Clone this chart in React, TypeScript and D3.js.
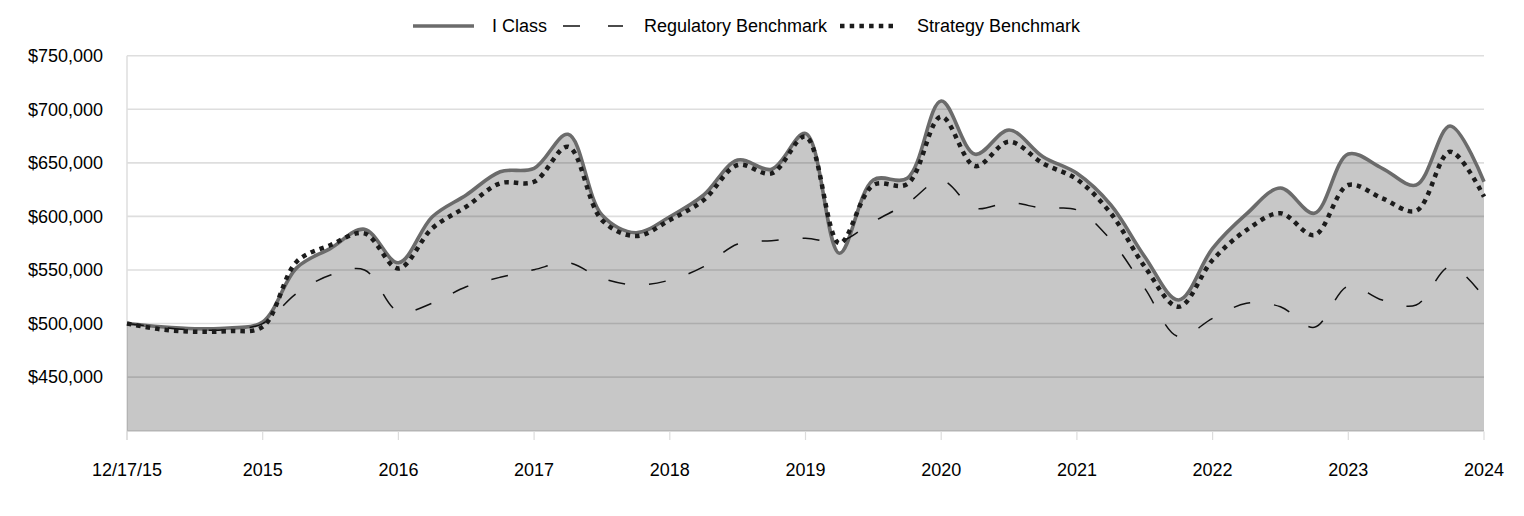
import React from "react";
import * as d3 from "d3";

const tickLabels = ["12/17/15", "2015", "2016", "2017", "2018", "2019", "2020", "2021", "2022", "2023", "2024"];
const yTicks = [450000, 500000, 550000, 600000, 650000, 700000, 750000];

const iClass = [500000, 497000, 495200, 495800, 501500, 552000, 570200, 588000, 556800, 599700, 620000, 641700, 644900, 676600, 601300, 584800, 599700, 620000, 652600, 644000, 677500, 565600, 634000, 635600, 707700, 658000, 680600, 655700, 640200, 610700, 562400, 522000, 570200, 602300, 626500, 602900, 658200, 644900, 629300, 684400, 632400];
const strategyBenchmark = [500000, 494600, 492400, 493000, 497000, 557700, 573300, 584200, 551500, 589000, 609100, 630900, 632400, 665000, 596600, 581700, 596600, 615300, 648000, 640200, 674400, 574900, 629300, 630200, 693100, 647000, 669700, 649500, 634600, 602900, 553100, 515700, 559300, 587300, 602900, 582600, 629300, 616900, 605300, 660400, 618400];
const regulatoryBenchmark = [500000, 496500, 494000, 494500, 500000, 528200, 545300, 550000, 511200, 519000, 534400, 543200, 550300, 556800, 542200, 536000, 540600, 553100, 574300, 577400, 579600, 576400, 595100, 612200, 633600, 607600, 612800, 607600, 606000, 578000, 532900, 487700, 504900, 518900, 515700, 496500, 535000, 522000, 517300, 553100, 524500];

const W = 1524;
const H = 516;
const FONT = "Arial, 'Liberation Sans', Helvetica, sans-serif";

export default function App() {
  const n = iClass.length - 1;
  const x = d3.scaleLinear().domain([0, n]).range([127, 1484]);
  const y = d3.scaleLinear().domain([400000, 750000]).range([430.7, 55.7]);
  const curve = d3.curveCatmullRom.alpha(0.5);

  const line = d3
    .line<number>()
    .x((_, i) => x(i))
    .y((d) => y(d))
    .curve(curve);
  const area = d3
    .area<number>()
    .x((_, i) => x(i))
    .y0(y(400000))
    .y1((d) => y(d))
    .curve(curve);

  const perLabel = n / (tickLabels.length - 1);

  return (
    <svg
      width={W}
      height={H}
      style={{ position: "absolute", left: 0, top: 0, background: "#fff" }}
      fontFamily={FONT}
    >
      {/* gridlines */}
      {yTicks.map((t) => (
        <line key={t} x1={127} x2={1484} y1={y(t)} y2={y(t)} stroke="#dedede" strokeWidth={1.6} />
      ))}
      {/* left axis line */}
      <line x1={127} x2={127} y1={y(750000)} y2={440} stroke="#dedede" strokeWidth={1.5} />
      {/* area */}
      <path d={area(iClass) || ""} fill="#000" fillOpacity={0.22} />
      {/* bottom axis */}
      <line x1={127} x2={1484} y1={y(400000)} y2={y(400000)} stroke="#b5b5b5" strokeWidth={1.5} />
      {tickLabels.map((lab, k) => (
        <g key={lab}>
          <line x1={x(k * perLabel)} x2={x(k * perLabel)} y1={431.5} y2={440} stroke="#dcdcdc" strokeWidth={1.2} />
          <text x={x(k * perLabel)} y={476} textAnchor="middle" fontSize={18} fill="#000">
            {lab}
          </text>
        </g>
      ))}
      {/* y labels */}
      {yTicks.map((t) => (
        <text key={"l" + t} x={103} y={y(t)} dy="0.35em" textAnchor="end" fontSize={18} fill="#000">
          {d3.format("$,")(t)}
        </text>
      ))}
      {/* series */}
      <path d={line(iClass) || ""} fill="none" stroke="#6b6b6b" strokeWidth={3.6} strokeLinejoin="round" />
      <path d={line(regulatoryBenchmark) || ""} fill="none" stroke="#111" strokeWidth={1.5} strokeDasharray="17,24" />
      <path d={line(strategyBenchmark) || ""} fill="none" stroke="#1c1c1c" strokeWidth={4.5} strokeDasharray="4.5,5" />

      {/* legend */}
      <line x1={413} x2={474} y1={26} y2={26} stroke="#6b6b6b" strokeWidth={3.6} />
      <text x={492} y={26} dy="0.35em" fontSize={18} fill="#000">I Class</text>
      <line x1={563} x2={623} y1={26} y2={26} stroke="#111" strokeWidth={1.5} strokeDasharray="17,28" />
      <text x={644} y={26} dy="0.35em" fontSize={18} fill="#000">Regulatory Benchmark</text>
      <line x1={840} x2={894} y1={26} y2={26} stroke="#1c1c1c" strokeWidth={4.5} strokeDasharray="4.5,5.2" />
      <text x={917} y={26} dy="0.35em" fontSize={18} fill="#000">Strategy Benchmark</text>
    </svg>
  );
}
